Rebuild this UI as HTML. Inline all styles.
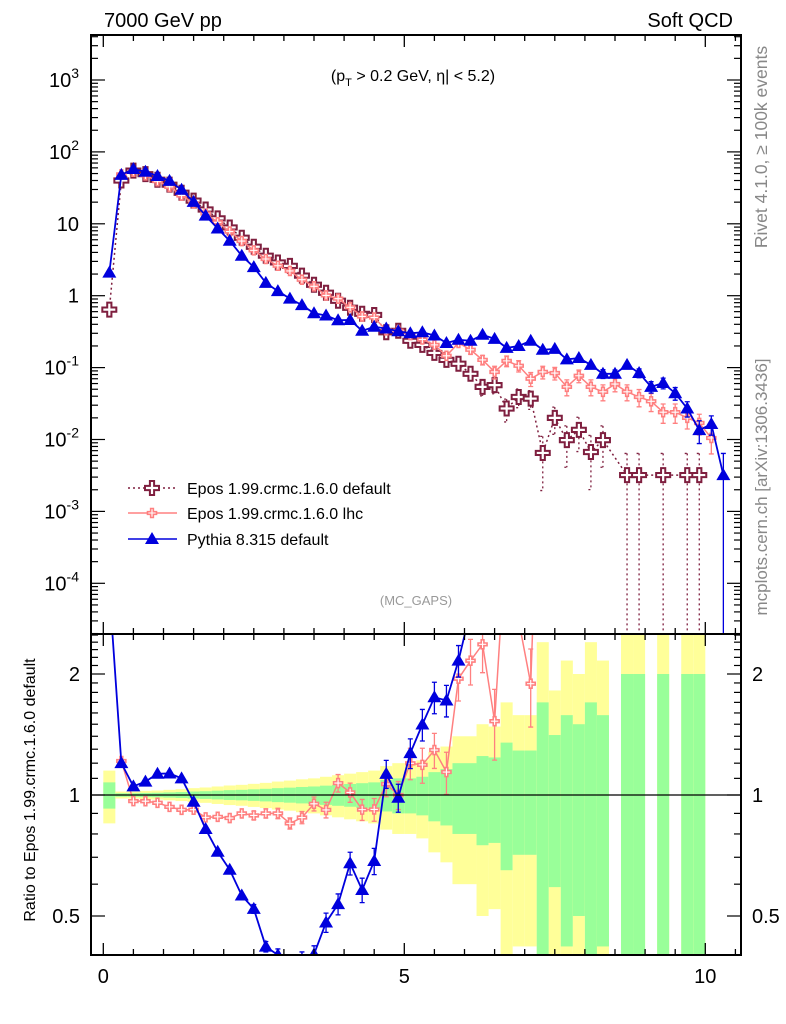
<!DOCTYPE html>
<html><head><meta charset="utf-8"><style>
html,body{margin:0;padding:0;background:#fff;}
svg{display:block;font-family:"Liberation Sans",sans-serif;}
</style></head><body>
<svg id="chart" width="786" height="1024" viewBox="0 0 786 1024" xmlns="http://www.w3.org/2000/svg">
<defs>
<clipPath id="clipMain"><rect x="91" y="35" width="650" height="599"/></clipPath>
<clipPath id="clipRatio"><rect x="91" y="634" width="650" height="321"/></clipPath>
</defs>
<g id="bands" clip-path="url(#clipRatio)"></g>
<g id="series"></g>
<g id="axes"></g>
<text x="104" y="27" font-size="20">7000 GeV pp</text>
<text x="733" y="27" font-size="20" text-anchor="end">Soft QCD</text>
<text x="413" y="81" font-size="16" text-anchor="middle">(p<tspan font-size="11" dy="5">T</tspan><tspan dy="-5"> &gt; 0.2 GeV, η| &lt; 5.2)</tspan></text>
<text x="416" y="605" font-size="13" fill="#999" text-anchor="middle">(MC_GAPS)</text>
<text transform="translate(767,147) rotate(-90)" font-size="17.5" fill="#888" text-anchor="middle">Rivet 4.1.0, ≥ 100k events</text>
<text transform="translate(767,487) rotate(-90)" font-size="17" fill="#888" text-anchor="middle">mcplots.cern.ch [arXiv:1306.3436]</text>
<text transform="translate(35,790) rotate(-90)" font-size="16" text-anchor="middle">Ratio to Epos 1.99.crmc.1.6.0 default</text>
<g id="legend"></g>
</svg>
<script>
const centers = [];
for (let i = 0; i < 52; i++) centers.push(0.1 + 0.2 * i);
const eposDefault = [0.64,40,55,49,41,35,27,21,15.8,11.9,8.9,6.4,4.8,3.6,2.9,2.6,1.9,1.42,1.1,0.85,0.68,0.56,0.54,0.31,
0.325,0.236,0.207,0.16,0.128,0.113,0.082,0.054,0.057,0.027,0.039,0.037,0.0065,0.02,0.0098,0.0136,0.0067,0.0098,null,0.0032,0.0032,null,0.0032,null,0.0032,0.0032,null,null];
const eposLhc = [null,48.6,53.1,47.3,39.2,32.7,24.8,19.3,13.9,10.5,7.8,5.76,4.27,3.24,2.61,2.21,1.67,1.35,1.01,0.91,0.69,0.515,0.497,0.33,
0.325,0.283,0.246,0.207,0.146,0.22,0.177,0.128,0.087,0.124,0.106,0.07,0.087,0.084,0.054,0.077,0.054,0.046,0.059,0.046,0.039,0.034,0.024,0.024,0.02,0.017,0.0105,null];
const pythia = [2.09,48,57.8,52.9,46.3,39.6,29.7,20.2,13,8.6,5.8,3.6,2.5,1.51,1.16,0.91,0.74,0.57,0.53,0.455,0.46,0.325,0.37,0.35,
0.32,0.30,0.31,0.28,0.22,0.244,0.236,0.286,0.251,0.188,0.2,0.236,0.177,0.182,0.13,0.136,0.109,0.082,0.082,0.109,0.084,0.054,0.061,0.044,0.027,0.0135,0.0164,0.0032];
const relErr = [0.075,0.01,0.01,0.012,0.013,0.015,0.017,0.02,0.022,0.025,0.028,0.03,0.033,0.036,0.04,0.043,0.047,0.05,0.055,0.06,0.065,0.07,0.075,0.09,
0.1,0.1,0.11,0.14,0.16,0.2,0.2,0.25,0.24,0.35,0.29,0.29,0.7,0.41,0.58,0.5,0.7,0.58,null,1,1,null,1,null,1,1,null,null];
const lhcErr = [0.05,0.01,0.01,0.01,0.01,0.01,0.012,0.014,0.016,0.018,0.02,0.022,0.024,0.026,0.03,0.032,0.035,0.04,0.045,0.05,0.055,0.06,0.065,0.07,
0.08,0.09,0.1,0.1,0.12,0.12,0.13,0.15,0.2,0.17,0.18,0.22,0.2,0.2,0.25,0.2,0.25,0.25,0.22,0.25,0.27,0.28,0.3,0.3,0.3,0.32,0.4,null];
const pythiaErr = [0.03,0.005,0.005,0.005,0.005,0.005,0.006,0.008,0.01,0.012,0.015,0.02,0.025,0.03,0.035,0.04,0.045,0.05,0.055,0.06,0.065,0.07,0.075,0.08,
0.08,0.085,0.09,0.09,0.09,0.09,0.09,0.09,0.1,0.1,0.1,0.1,0.1,0.1,0.11,0.11,0.12,0.14,0.13,0.12,0.14,0.18,0.17,0.2,0.24,0.35,0.3,1];
const mainTickExp = ["-4","-3","-2","-1","","1","2","3"];
const ratioTickLabels = ["0.5","1","2"];
const xTickLabels = ["0","5","10"];

const NS = "http://www.w3.org/2000/svg";
const X0 = 91, X1 = 741, MT = 35, MB = 634, RB = 955;
const xs = v => 103.3 + v * 60.2;
const ym = v => 80 + (3 - Math.log10(v)) * 71.9;
const yr = r => 795 - Math.log2(r) * 121;
function el(tag, attrs, parent) {
  const e = document.createElementNS(NS, tag);
  for (const k in attrs) e.setAttribute(k, attrs[k]);
  parent.appendChild(e);
  return e;
}
const axes = document.getElementById('axes');
const bands = document.getElementById('bands');
const series = document.getElementById('series');
const legend = document.getElementById('legend');

for (let i = 0; i < centers.length; i++) {
  const e = relErr[i]; if (e == null) continue;
  const xa = xs(centers[i] - 0.1), xb = xs(centers[i] + 0.1);
  const yTop = Math.max(yr(1 + 2 * e), 600), yBot = (1 - 2 * e) > 0 ? yr(1 - 2 * e) : RB + 5;
  const y1 = el('rect', {x: xa, y: yTop, width: xb - xa, height: Math.min(yBot, RB + 5) - yTop, fill: '#ffff99'}, bands);
  
  
  const gTop = yr(1 + e), gBot = (1 - e) > 0.01 ? yr(1 - e) : RB + 5;
  const g1 = el('rect', {x: xa, y: gTop, width: xb - xa, height: Math.min(gBot, RB + 5) - gTop, fill: '#99ff99'}, bands);
  
  
}
const one = el('line', {x1: X0, x2: X1, y1: yr(1), y2: yr(1), stroke: '#000', 'stroke-width': 1.2}, axes);



function crossPath(cx, cy, s) {
  const a = s * 0.3, b = s;
  return `M${cx-a},${cy-b}H${cx+a}V${cy-a}H${cx+b}V${cy+a}H${cx+a}V${cy+b}H${cx-a}V${cy+a}H${cx-b}V${cy-a}H${cx-a}Z`;
}
function marker(g, kind, cx, cy) {
  let m;
  if (kind === 'def') m = el('path', {d: crossPath(cx, cy, 7), fill: '#fff', stroke: '#7f1f3f', 'stroke-width': 2}, g);
  else if (kind === 'lhc') m = el('path', {d: crossPath(cx, cy, 4.5), fill: '#fff', stroke: '#ff8080', 'stroke-width': 1.6}, g);
  else m = el('path', {d: `M${cx},${cy-7}L${cx+7},${cy+5}L${cx-7},${cy+5}Z`, fill: '#0000dd'}, g);
  
  
}
const styles = {
  def: {color: '#7f1f3f', dash: '2,3', w: 1.5},
  lhc: {color: '#ff8080', dash: '', w: 1.5},
  py: {color: '#0000dd', dash: '', w: 1.8}
};
function drawSeries(name, kind, vals, errs, ratio) {
  const st = styles[kind];
  const g = el('g', {'clip-path': ratio ? 'url(#clipRatio)' : 'url(#clipMain)'}, series);
  
  
  const pts = [];
  for (let i = 0; i < centers.length; i++) {
    const v = vals[i];
    if (v == null) continue;
    let lo, hi, y;
    const err = errs[i] == null ? 0 : errs[i];
    if (ratio) {
      const d = eposDefault[i]; if (d == null) continue;
      const r = v / d; y = yr(r);
      if (r > 2.6) { pts.push([xs(centers[i]), y, y, y]); continue; }
      hi = yr(r * (1 + err)); lo = (1 - err) > 0.01 ? yr(r * (1 - err)) : RB + 10;
    } else {
      y = ym(v);
      hi = ym(v * (1 + err)); lo = (1 - err) > 0.01 ? ym(v * (1 - err)) : MB + 10;
    }
    pts.push([xs(centers[i]), y, hi, lo]);
  }
  el('polyline', {points: pts.map(p => p[0] + ',' + p[1]).join(' '), fill: 'none', stroke: st.color, 'stroke-width': st.w, 'stroke-dasharray': st.dash}, g);
  for (const p of pts) {
    if (p[3] - p[2] > 8) {
      el('path', {d: `M${p[0]},${p[2]}V${p[3]}M${p[0]-2.5},${p[2]}h5M${p[0]-2.5},${p[3]}h5`, stroke: st.color, 'stroke-width': 1.3, fill: 'none', 'stroke-dasharray': kind === 'def' ? '2,3' : ''}, g);
    }
  }
  for (const p of pts) marker(g, kind, p[0], p[1]);
}
drawSeries('epos-default-series', 'def', eposDefault, relErr, false);
drawSeries('epos-lhc-series', 'lhc', eposLhc, lhcErr, false);
drawSeries('pythia-series', 'py', pythia, pythiaErr, false);
drawSeries('epos-lhc-ratio', 'lhc', eposLhc, lhcErr, true);
drawSeries('pythia-ratio', 'py', pythia, pythiaErr, true);

for (const [y0, y1, nm] of [[MT, MB, 'main-frame'], [MB, RB, 'ratio-frame']]) {
  const f = el('rect', {x: X0, y: y0, width: X1 - X0, height: y1 - y0, fill: 'none', stroke: '#000', 'stroke-width': 2}, axes);
  
  
}
for (let k = 0; k <= 21; k++) {
  const v = k * 0.5, x = xs(v), major = (k % 10 === 0), L = major ? 12 : 6;
  for (const [yb, dir] of [[MT, 1], [MB, -1], [MB, 1], [RB, -1]]) {
    el('line', {x1: x, x2: x, y1: yb, y2: yb + dir * L, stroke: '#000', 'stroke-width': 1.3}, axes);
  }
}
xTickLabels.forEach((t, i) => {
  const tx = el('text', {x: xs(i * 5), y: 983, 'font-size': 20, 'text-anchor': 'middle'}, axes);
  tx.textContent = t;
  
  
});
for (let d = -5; d <= 3; d++) {
  for (let m = 1; m <= 9; m++) {
    const v = m * Math.pow(10, d), y = ym(v);
    if (y < MT || y > MB) continue;
    const L = m === 1 ? 14 : 7;
    el('line', {x1: X0, x2: X0 + L, y1: y, y2: y, stroke: '#000', 'stroke-width': 1.2}, axes);
    el('line', {x1: X1, x2: X1 - L, y1: y, y2: y, stroke: '#000', 'stroke-width': 1.2}, axes);
  }
}
mainTickExp.forEach((ex, i) => {
  const d = i - 4, y = ym(Math.pow(10, d)) + 7;
  const tx = el('text', {x: 79, y: y, 'font-size': 20, 'text-anchor': 'end'}, axes);
  if (d === 0) tx.textContent = '1';
  else if (d === 1) tx.textContent = '10';
  else {
    const t1 = el('tspan', {}, tx); t1.textContent = '10';
    const t2 = el('tspan', {'font-size': 14, dy: -9}, tx); t2.textContent = ex;
  }
  
  
});
const rt = [0.4,0.5,0.6,0.7,0.8,0.9,1,1.1,1.2,1.3,1.4,1.5,1.6,1.7,1.8,1.9,2,2.1,2.2,2.3,2.4,2.5];
for (const r of rt) {
  const y = yr(r); if (y < MB || y > RB) continue;
  const major = (r === 0.5 || r === 1 || r === 2), L = major ? 14 : 7;
  el('line', {x1: X0, x2: X0 + L, y1: y, y2: y, stroke: '#000', 'stroke-width': 1.2}, axes);
  el('line', {x1: X1, x2: X1 - L, y1: y, y2: y, stroke: '#000', 'stroke-width': 1.2}, axes);
}
ratioTickLabels.forEach((t, i) => {
  const r = Math.pow(2, i - 1);
  for (const [x, a] of [[80, 'end'], [752, 'start']]) {
    const tx = el('text', {x: x, y: yr(r) + 7, 'font-size': 20, 'text-anchor': a}, axes);
    tx.textContent = t;
    
    
  }
});
const legItems = [['def', 'Epos 1.99.crmc.1.6.0 default', 488], ['lhc', 'Epos 1.99.crmc.1.6.0 lhc', 513], ['py', 'Pythia 8.315 default', 539]];
for (const [k, label, y] of legItems) {
  const g = el('g', {}, legend);
  
  
  el('line', {x1: 128, x2: 177, y1: y, y2: y, stroke: styles[k].color, 'stroke-width': 1.5, 'stroke-dasharray': styles[k].dash}, g);
  marker(g, k, 152, y);
  const tx = el('text', {x: 187, y: y + 6, 'font-size': 16}, g);
  tx.textContent = label;
}
</script>
</body></html>
